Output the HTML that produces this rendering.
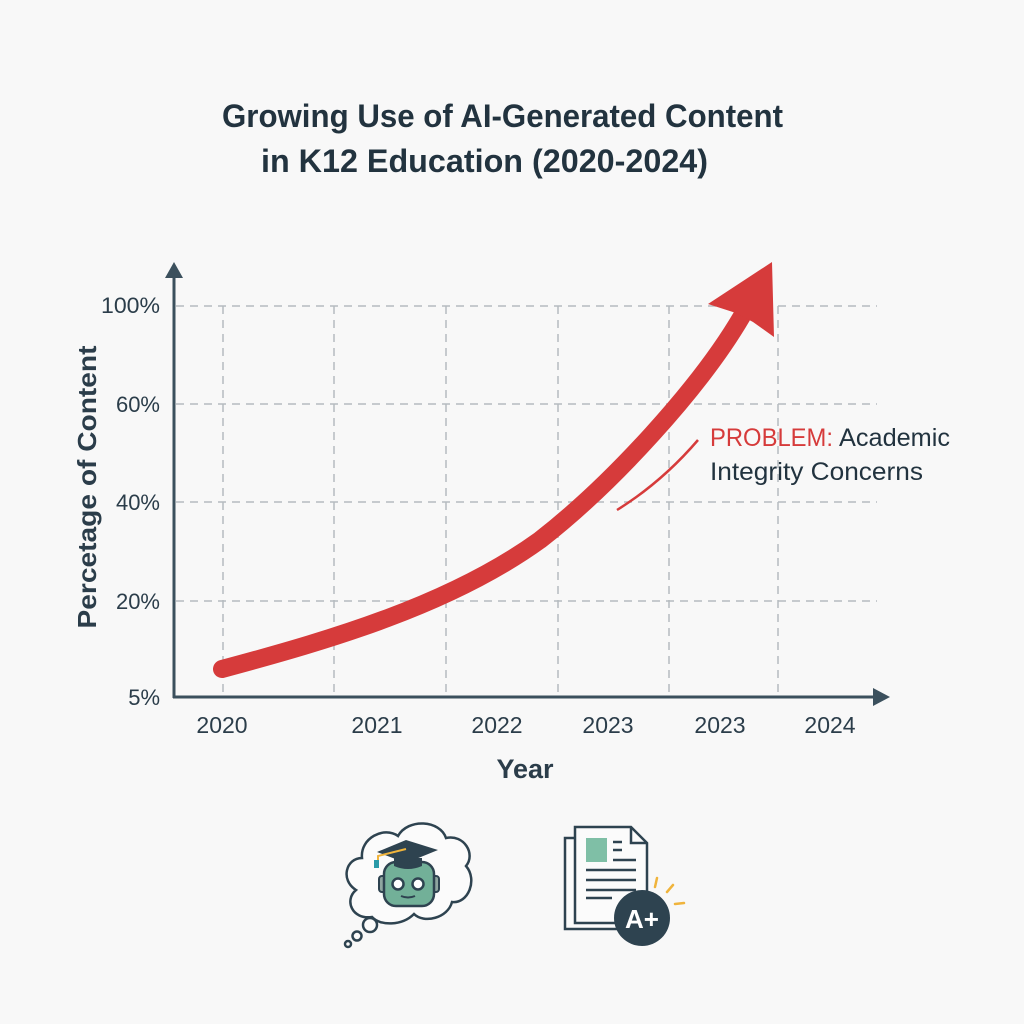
<!DOCTYPE html>
<html>
<head>
<meta charset="utf-8">
<style>
html,body{margin:0;padding:0;background:#f8f8f8;}
svg{display:block;}
text{font-family:"Liberation Sans",sans-serif;}
</style>
</head>
<body>
<svg width="1024" height="1024" viewBox="0 0 1024 1024" xmlns="http://www.w3.org/2000/svg">
<rect x="0" y="0" width="1024" height="1024" fill="#f8f8f8"/>

<!-- Title -->
<text x="222" y="127" font-size="32" font-weight="bold" fill="#22333f" textLength="561" lengthAdjust="spacingAndGlyphs">Growing Use of AI-Generated Content</text>
<text x="261" y="172" font-size="32" font-weight="bold" fill="#22333f" textLength="447" lengthAdjust="spacingAndGlyphs">in K12 Education (2020-2024)</text>

<!-- Grid -->
<g stroke="#b5bbbf" stroke-width="1.5" stroke-dasharray="8 6" fill="none">
<line x1="176" y1="306" x2="877" y2="306"/>
<line x1="176" y1="404" x2="877" y2="404"/>
<line x1="176" y1="502" x2="877" y2="502"/>
<line x1="176" y1="601" x2="877" y2="601"/>
<line x1="223" y1="306" x2="223" y2="696"/>
<line x1="334" y1="306" x2="334" y2="696"/>
<line x1="446" y1="306" x2="446" y2="696"/>
<line x1="558" y1="306" x2="558" y2="696"/>
<line x1="669" y1="306" x2="669" y2="696"/>
<line x1="778" y1="306" x2="778" y2="696"/>
</g>

<!-- Axes -->
<g stroke="#3b505d" stroke-width="3" fill="none">
<line x1="174" y1="698" x2="174" y2="272"/>
<line x1="173" y1="697" x2="878" y2="697"/>
</g>
<polygon points="174,262 165,278 183,278" fill="#3b505d"/>
<polygon points="890,697 873,688 873,706" fill="#3b505d"/>

<!-- Y tick labels -->
<g font-size="22" fill="#2b3d4a" text-anchor="end">
<text x="160" y="313" textLength="59" lengthAdjust="spacingAndGlyphs">100%</text>
<text x="160" y="412">60%</text>
<text x="160" y="510">40%</text>
<text x="160" y="609">20%</text>
<text x="160" y="705">5%</text>
</g>

<!-- Y axis title -->
<text transform="translate(96,487) rotate(-90)" font-size="26" font-weight="bold" fill="#2b3d4a" text-anchor="middle" textLength="283" lengthAdjust="spacingAndGlyphs">Percetage of Content</text>

<!-- X tick labels -->
<g font-size="23" fill="#2b3d4a" text-anchor="middle">
<text x="222" y="733">2020</text>
<text x="377" y="733">2021</text>
<text x="497" y="733">2022</text>
<text x="608" y="733">2023</text>
<text x="720" y="733">2023</text>
<text x="830" y="733">2024</text>
</g>
<text x="525" y="778" font-size="27" font-weight="bold" fill="#2b3d4a" text-anchor="middle">Year</text>

<!-- Red curve -->
<path d="M222,669 C330,640 450,605 540,540 C612,484 700,388 742,316" stroke="#d63b3b" stroke-width="18" fill="none" stroke-linecap="round"/>
<polygon points="772,262 708,304 736,313 753,322 774,337" fill="#d63b3b"/>
<path d="M617,510 Q662,482 698,440" stroke="#d63b3b" stroke-width="2.5" fill="none"/>

<!-- Annotation -->
<text x="710" y="446" font-size="25" fill="#d63b3b" textLength="123" lengthAdjust="spacingAndGlyphs">PROBLEM:</text>
<text x="839" y="446" font-size="25" fill="#22333f" textLength="111" lengthAdjust="spacingAndGlyphs">Academic</text>
<text x="710" y="480" font-size="25" fill="#22333f" textLength="213" lengthAdjust="spacingAndGlyphs">Integrity Concerns</text>

<!-- Thought cloud icon -->
<g stroke="#2e4350" stroke-width="2.5" fill="#fbfbfb">
<path d="M372,917 C352,920 344,900 356,890 C340,880 346,858 362,858 C360,838 384,826 398,836 C408,818 440,820 446,838 C464,834 476,854 466,866 C478,880 468,904 452,902 C448,918 424,924 414,914 C402,926 380,926 372,917 Z"/>
<circle cx="370" cy="925" r="7"/>
<circle cx="357" cy="936" r="4.5"/>
<circle cx="348" cy="944" r="3"/>
</g>
<!-- robot -->
<rect x="379" y="876" width="8" height="16" rx="3" fill="#8fa6a0" stroke="#2e4350" stroke-width="2"/>
<rect x="431" y="876" width="8" height="16" rx="3" fill="#8fa6a0" stroke="#2e4350" stroke-width="2"/>
<rect x="384" y="862" width="50" height="44" rx="12" fill="#72b098" stroke="#2e4350" stroke-width="2.5"/>
<circle cx="398" cy="884" r="5.5" fill="#fff" stroke="#2e4350" stroke-width="2.5"/>
<circle cx="418" cy="884" r="5.5" fill="#fff" stroke="#2e4350" stroke-width="2.5"/>
<path d="M401,896 Q408,899 415,896" stroke="#2e4350" stroke-width="2" fill="none"/>
<!-- grad cap -->
<path d="M394,858 L394,866 Q408,872 422,866 L422,858 Z" fill="#2e4350"/>
<polygon points="377,852 406,840 438,850 406,863" fill="#2e4350"/>
<path d="M406,849 L378,856 L378,862" stroke="#f0b43c" stroke-width="2" fill="none"/>
<rect x="374" y="860" width="5" height="8" fill="#2a9aa8"/>

<!-- Document icon -->
<g stroke="#2e4350" stroke-width="2.5" fill="#fbfbfb">
<path d="M565,838 L565,929 L628,929 L628,838 Z"/>
<path d="M575,827 L631,827 L647,843 L647,923 L575,923 Z"/>
<path d="M631,827 L631,843 L647,843" fill="none"/>
</g>
<rect x="586" y="838" width="21" height="24" fill="#7fbfa6"/>
<g stroke="#2e4350" stroke-width="2.5">
<line x1="613" y1="842" x2="622" y2="842"/>
<line x1="613" y1="850" x2="622" y2="850"/>
<line x1="613" y1="860" x2="636" y2="860"/>
<line x1="586" y1="870" x2="636" y2="870"/>
<line x1="586" y1="880" x2="636" y2="880"/>
<line x1="586" y1="890" x2="636" y2="890"/>
<line x1="586" y1="898" x2="612" y2="898"/>
</g>
<circle cx="642" cy="918" r="28" fill="#2e4350"/>
<text x="642" y="928" font-size="26" font-weight="bold" fill="#fff" text-anchor="middle">A+</text>
<g stroke="#f0b43c" stroke-width="2.5" stroke-linecap="round">
<line x1="657" y1="878" x2="655" y2="887"/>
<line x1="673" y1="885" x2="667" y2="892"/>
<line x1="684" y1="903" x2="675" y2="904"/>
</g>
</svg>
</body>
</html>
